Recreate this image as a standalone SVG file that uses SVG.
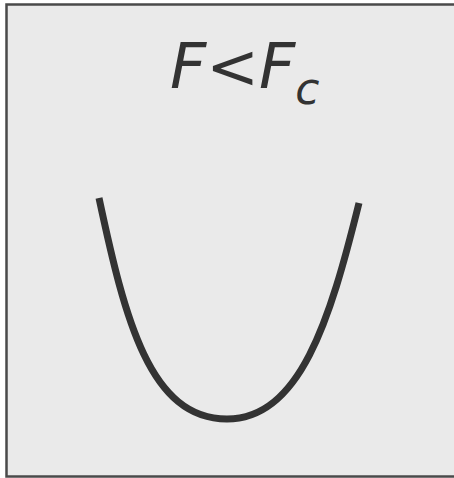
<svg xmlns="http://www.w3.org/2000/svg" width="454" height="478" viewBox="0 0 454 478">
<style>
.frame{fill:#eaeaea;stroke:#4a4a4a;stroke-width:2.5}
.curve{fill:none;stroke:#333333;stroke-width:7}
.lbl{font-family:"DejaVu Sans",Verdana,sans-serif;font-style:italic;fill:#333333}
</style>
<rect class="frame" x="6.5" y="4.5" width="470" height="472"/>
<g id="label">
<text class="lbl" x="170" y="88" font-size="63">F&lt;F<tspan font-size="44" dy="16">c</tspan></text>
</g>
<g id="curve">
<path class="curve" d="M 99 198 C 125 320, 150 419, 227 419 C 300 419, 330 320, 359 203"/>
</g>
</svg>
